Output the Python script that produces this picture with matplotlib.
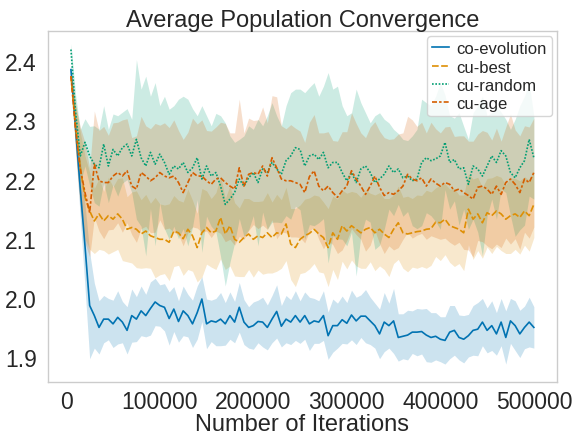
import numpy as np
import matplotlib
matplotlib.use('Agg')
import matplotlib.pyplot as plt

plt.rcParams['font.family'] = ['Liberation Sans', 'DejaVu Sans']

# --- data ---
iterations = np.arange(5000, 500001, 5000)

coevo_mean = [2.386, 2.285, 2.184, 2.088, 1.987, 1.970, 1.950, 1.964, 1.964, 1.956,
              1.967, 1.959, 1.945, 1.970, 1.964, 1.978, 1.970, 1.982, 1.993, 1.987,
              1.984, 1.965, 1.981, 1.960, 1.978, 1.970, 1.956, 1.975, 1.998, 1.956,
              1.961, 1.959, 1.964, 1.956, 1.970, 1.959, 1.984, 1.959, 1.950, 1.953,
              1.960, 1.959, 1.950, 1.964, 1.977, 1.952, 1.964, 1.959, 1.970, 1.959,
              1.970, 1.956, 1.961, 1.959, 1.970, 1.936, 1.953, 1.953, 1.963, 1.957,
              1.971, 1.961, 1.969, 1.969, 1.961, 1.953, 1.939, 1.959, 1.953, 1.961,
              1.933, 1.935, 1.937, 1.942, 1.942, 1.943, 1.937, 1.933, 1.935, 1.930,
              1.928, 1.942, 1.945, 1.933, 1.930, 1.936, 1.945, 1.947, 1.959, 1.945,
              1.953, 1.939, 1.959, 1.933, 1.961, 1.953, 1.939, 1.950, 1.959, 1.950]
coevo_err = [0.008, 0.030, 0.050, 0.070, 0.090, 0.055, 0.045, 0.040, 0.035, 0.040,
             0.045, 0.035, 0.040, 0.045, 0.038, 0.042, 0.036, 0.045, 0.040, 0.035,
             0.040, 0.045, 0.038, 0.035, 0.042, 0.036, 0.040, 0.045, 0.038, 0.042,
             0.035, 0.040, 0.045, 0.036, 0.040, 0.035, 0.042, 0.038, 0.035, 0.040,
             0.036, 0.042, 0.038, 0.040, 0.045, 0.035, 0.040, 0.038, 0.042, 0.036,
             0.040, 0.045, 0.038, 0.036, 0.042, 0.040, 0.045, 0.038, 0.040, 0.035,
             0.042, 0.040, 0.036, 0.045, 0.040, 0.038, 0.042, 0.050, 0.038, 0.055,
             0.040, 0.038, 0.042, 0.036, 0.040, 0.038, 0.045, 0.042, 0.040, 0.038,
             0.040, 0.045, 0.042, 0.038, 0.040, 0.036, 0.042, 0.045, 0.040, 0.038,
             0.042, 0.036, 0.040, 0.045, 0.038, 0.042, 0.040, 0.036, 0.042, 0.035]

best_mean = [2.375, 2.290, 2.220, 2.170, 2.147, 2.130, 2.142, 2.130, 2.139, 2.133,
             2.142, 2.133, 2.116, 2.119, 2.116, 2.108, 2.113, 2.105, 2.102, 2.099,
             2.099, 2.094, 2.113, 2.110, 2.100, 2.116, 2.105, 2.085, 2.110, 2.119,
             2.110, 2.113, 2.136, 2.108, 2.122, 2.099, 2.094, 2.102, 2.108, 2.099,
             2.105, 2.102, 2.110, 2.102, 2.110, 2.108, 2.125, 2.091, 2.085, 2.099,
             2.105, 2.109, 2.116, 2.108, 2.102, 2.085, 2.110, 2.099, 2.122, 2.113,
             2.122, 2.116, 2.110, 2.116, 2.119, 2.110, 2.116, 2.108, 2.102, 2.116,
             2.127, 2.110, 2.108, 2.110, 2.112, 2.113, 2.116, 2.117, 2.128, 2.127,
             2.133, 2.122, 2.119, 2.116, 2.110, 2.150, 2.133, 2.142, 2.127, 2.144,
             2.139, 2.147, 2.142, 2.133, 2.139, 2.142, 2.136, 2.147, 2.139, 2.158]
best_err = [0.010, 0.040, 0.060, 0.070, 0.065, 0.055, 0.060, 0.050, 0.065, 0.055,
            0.060, 0.070, 0.055, 0.060, 0.065, 0.058, 0.062, 0.055, 0.068, 0.060,
            0.058, 0.065, 0.060, 0.055, 0.062, 0.068, 0.060, 0.058, 0.075, 0.062,
            0.058, 0.065, 0.070, 0.060, 0.068, 0.062, 0.058, 0.066, 0.060, 0.064,
            0.058, 0.062, 0.068, 0.060, 0.065, 0.058, 0.062, 0.060, 0.066, 0.058,
            0.062, 0.060, 0.058, 0.064, 0.060, 0.066, 0.062, 0.068, 0.060, 0.064,
            0.058, 0.062, 0.060, 0.066, 0.058, 0.064, 0.062, 0.060, 0.066, 0.058,
            0.062, 0.060, 0.064, 0.058, 0.062, 0.060, 0.066, 0.062, 0.058, 0.064,
            0.060, 0.062, 0.066, 0.058, 0.064, 0.060, 0.068, 0.062, 0.060, 0.058,
            0.064, 0.060, 0.062, 0.058, 0.064, 0.060, 0.062, 0.058, 0.060, 0.056]

random_mean = [2.420, 2.313, 2.240, 2.263, 2.240, 2.226, 2.220, 2.260, 2.223, 2.251,
               2.240, 2.254, 2.260, 2.240, 2.268, 2.237, 2.223, 2.246, 2.226, 2.243,
               2.229, 2.209, 2.223, 2.218, 2.229, 2.212, 2.220, 2.237, 2.201, 2.223,
               2.206, 2.212, 2.189, 2.158, 2.167, 2.178, 2.201, 2.189, 2.203, 2.212,
               2.195, 2.218, 2.212, 2.229, 2.218, 2.209, 2.232, 2.240, 2.254, 2.251,
               2.223, 2.240, 2.243, 2.234, 2.246, 2.220, 2.229, 2.229, 2.212, 2.198,
               2.212, 2.195, 2.218, 2.223, 2.212, 2.195, 2.201, 2.209, 2.223, 2.212,
               2.218, 2.203, 2.206, 2.198, 2.201, 2.229, 2.237, 2.232, 2.235, 2.240,
               2.263, 2.229, 2.234, 2.218, 2.220, 2.192, 2.223, 2.218, 2.206, 2.223,
               2.240, 2.229, 2.249, 2.240, 2.212, 2.203, 2.220, 2.232, 2.268, 2.237]
random_err = [0.010, 0.030, 0.045, 0.040, 0.050, 0.065, 0.065, 0.065, 0.062, 0.060,
              0.068, 0.060, 0.060, 0.062, 0.135, 0.116, 0.152, 0.095, 0.138, 0.082,
              0.112, 0.110, 0.102, 0.118, 0.112, 0.124, 0.100, 0.071, 0.124, 0.085,
              0.085, 0.100, 0.119, 0.138, 0.107, 0.085, 0.067, 0.085, 0.088, 0.073,
              0.107, 0.073, 0.096, 0.101, 0.090, 0.082, 0.093, 0.107, 0.099, 0.102,
              0.124, 0.116, 0.121, 0.107, 0.112, 0.161, 0.124, 0.129, 0.113, 0.110,
              0.101, 0.158, 0.112, 0.090, 0.084, 0.113, 0.112, 0.093, 0.073, 0.073,
              0.060, 0.065, 0.060, 0.076, 0.084, 0.107, 0.093, 0.093, 0.106, 0.124,
              0.080, 0.079, 0.070, 0.095, 0.070, 0.076, 0.090, 0.107, 0.135, 0.085,
              0.073, 0.096, 0.065, 0.062, 0.073, 0.099, 0.105, 0.109, 0.096, 0.070]

age_mean = [2.375, 2.285, 2.218, 2.178, 2.144, 2.226, 2.198, 2.195, 2.195, 2.206,
            2.212, 2.206, 2.215, 2.189, 2.184, 2.212, 2.206, 2.198, 2.203, 2.212,
            2.206, 2.203, 2.206, 2.195, 2.178, 2.195, 2.212, 2.206, 2.206, 2.198,
            2.192, 2.201, 2.203, 2.195, 2.189, 2.184, 2.220, 2.189, 2.209, 2.212,
            2.209, 2.223, 2.206, 2.237, 2.220, 2.201, 2.198, 2.198, 2.195, 2.192,
            2.178, 2.205, 2.215, 2.189, 2.181, 2.189, 2.178, 2.170, 2.181, 2.189,
            2.215, 2.201, 2.189, 2.175, 2.189, 2.206, 2.187, 2.173, 2.178, 2.175,
            2.181, 2.189, 2.209, 2.201, 2.198, 2.203, 2.189, 2.201, 2.194, 2.189,
            2.195, 2.192, 2.181, 2.184, 2.178, 2.173, 2.167, 2.187, 2.189, 2.184,
            2.175, 2.189, 2.175, 2.195, 2.201, 2.192, 2.178, 2.201, 2.195, 2.212]
age_err = [0.012, 0.040, 0.070, 0.085, 0.075, 0.090, 0.085, 0.095, 0.080, 0.090,
           0.085, 0.095, 0.088, 0.082, 0.090, 0.095, 0.085, 0.088, 0.092, 0.080,
           0.090, 0.085, 0.095, 0.088, 0.090, 0.085, 0.092, 0.088, 0.095, 0.085,
           0.090, 0.088, 0.094, 0.100, 0.090, 0.095, 0.116, 0.090, 0.095, 0.088,
           0.092, 0.100, 0.090, 0.105, 0.120, 0.090, 0.088, 0.095, 0.092, 0.090,
           0.085, 0.092, 0.095, 0.090, 0.098, 0.092, 0.088, 0.095, 0.100, 0.092,
           0.098, 0.094, 0.090, 0.096, 0.100, 0.092, 0.095, 0.098, 0.090, 0.094,
           0.096, 0.090, 0.098, 0.100, 0.092, 0.094, 0.090, 0.096, 0.092, 0.090,
           0.094, 0.098, 0.092, 0.090, 0.096, 0.092, 0.098, 0.090, 0.094, 0.096,
           0.092, 0.098, 0.090, 0.094, 0.110, 0.092, 0.096, 0.090, 0.094, 0.092]

labels = ['co-evolution', 'cu-best', 'cu-random', 'cu-age']
means = [coevo_mean, best_mean, random_mean, age_mean]
errs = [coevo_err, best_err, random_err, age_err]
colors = ['#0173b2', '#de8f05', '#029e73', '#d55e00']
dashes = [(None, None), (4, 1.5), (1, 1), (3, 1.25, 1.5, 1.25)]

fig = plt.figure(figsize=(5.76, 4.35), dpi=100)
ax = fig.add_axes([0.083, 0.12, 0.884, 0.806])

for lab, m, e, c, d in zip(labels, means, errs, colors, dashes):
    m = np.array(m)
    e = np.array(e)
    ax.fill_between(iterations, m - e, m + e, color=c, alpha=0.2, linewidth=0)
    line, = ax.plot(iterations, m, color=c, linewidth=1.2, label=lab)
    if d[0] is not None:
        line.set_dashes(d)

ax.set_xlim(-19750, 524750)
ax.set_ylim(1.858, 2.451)
ax.set_title('Average Population Convergence', fontsize=17, color='#262626', pad=4)
ax.set_xlabel('Number of Iterations', fontsize=17, color='#262626', labelpad=0)
ax.set_xticks([0, 100000, 200000, 300000, 400000, 500000])
ax.set_yticks([1.9, 2.0, 2.1, 2.2, 2.3, 2.4])
ax.tick_params(axis='both', length=0, labelsize=16.5, colors='#262626')
ax.tick_params(axis='x', pad=6)
ax.tick_params(axis='y', pad=8)
for s in ax.spines.values():
    s.set_color('#cccccc')
    s.set_linewidth(1.0)

leg = ax.legend(loc='upper right', fontsize=12, handlelength=1.0, handletextpad=0.45,
                labelspacing=0.2, borderpad=0.3, borderaxespad=0.3, frameon=True,
                fancybox=True)
leg.get_frame().set_edgecolor('#cccccc')
for t in leg.get_texts():
    t.set_color('#262626')

fig.savefig('out.png', dpi=100)
